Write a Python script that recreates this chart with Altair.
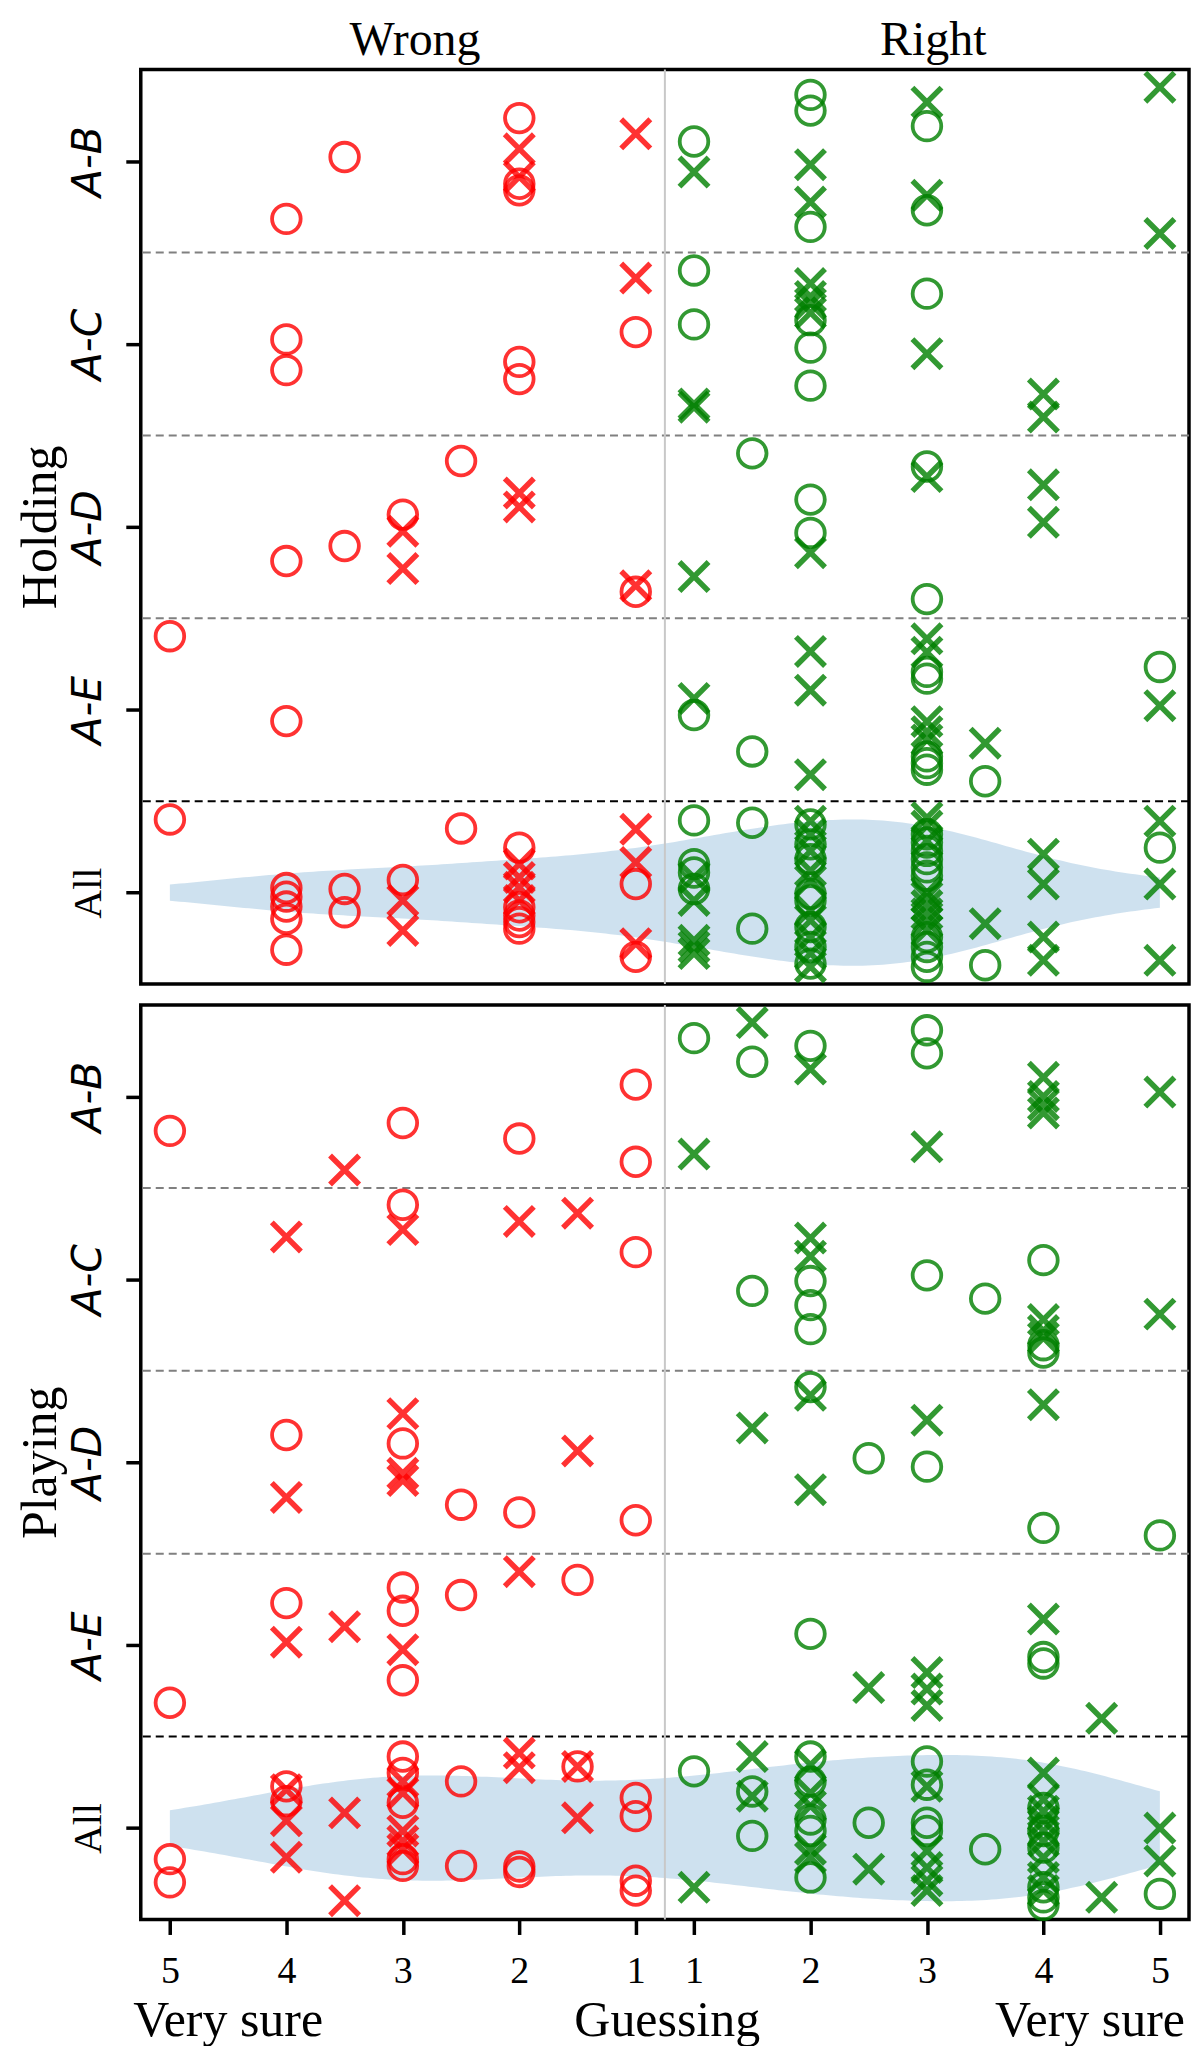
import altair as alt
import numpy as np
import pandas as pd

# ---------------- data ----------------
ROW_NAMES = ['A-B', 'A-C', 'A-D', 'A-E', 'All']
ROW_CENTERS = [4.5, 3.5, 2.5, 1.5, 0.5]
ROW_BOUNDS = [4, 3, 2, 1]
ROW_BOUND_COLORS = ['#808080', '#808080', '#808080', 'black']

TICK_POS = [0, 1, 2, 3, 4, 4.5, 5.5, 6.5, 7.5, 8.5]
TICK_LABELS = ['5', '4', '3', '2', '1', '1', '2', '3', '4', '5']
SPLIT_POS = [4.25]

SIDE_POS = [2.1, 6.55]
SIDE_LABELS = ['Wrong', 'Right']

SCALE_POS = [0.5, 4.27, 7.9]
SCALE_LABELS = ['Very sure', 'Guessing', 'Very sure']

# (position, offset inside row)
HOLD_AB_O = [(1, -0.316), (1.5, 0.022), (3, 0.235), (3, -0.124), (3, -0.16), (4.5, 0.107),
             (5.5, 0.362), (5.5, 0.276), (5.5, -0.36), (6.5, 0.191), (6.5, -0.269)]
HOLD_AB_X = [(3, 0.067), (3, -0.087), (4, 0.149), (4.5, -0.06), (5.5, -0.02), (5.5, -0.224),
             (6.5, 0.322), (6.5, -0.187), (8.5, 0.404), (8.5, -0.396)]
HOLD_AC_O = [(1, 0.025), (1, -0.143), (3, -0.098), (3, -0.192), (4, 0.065), (4.5, 0.402),
             (4.5, 0.107), (5.5, 0.13), (5.5, -0.02), (5.5, -0.228), (6.5, 0.275)]
HOLD_AC_X = [(4, 0.36), (4.5, -0.328), (4.5, -0.346), (5.5, 0.33), (5.5, 0.26), (5.5, 0.22),
             (5.5, 0.17), (6.5, -0.053), (7.5, -0.274), (7.5, -0.4)]
HOLD_AD_O = [(1, -0.187), (1.5, -0.105), (2, 0.067), (2.5, 0.36), (4, -0.355), (5, 0.402),
             (5.5, 0.149), (5.5, -0.033), (6.5, 0.33), (6.5, -0.395)]
HOLD_AD_X = [(2, -0.024), (2, -0.228), (3, 0.185), (3, 0.109), (4, -0.322), (4.5, -0.272),
             (5.5, -0.141), (6.5, 0.275), (7.5, 0.23), (7.5, 0.025)]
HOLD_AE_O = [(0, 0.402), (1, -0.062), (4.5, -0.029), (5, -0.228), (6.5, 0.207), (6.5, 0.17),
             (6.5, -0.255), (6.5, -0.292), (6.5, -0.328), (7, -0.391), (8.5, 0.234)]
HOLD_AE_X = [(4.5, 0.062), (5.5, 0.319), (5.5, 0.107), (5.5, -0.355), (6.5, 0.388), (6.5, 0.315),
             (6.5, -0.065), (6.5, -0.12), (6.5, -0.165), (7, -0.183), (8.5, 0.022)]
HOLD_ALL_O = [(0, 0.4), (1, 0.025), (1, -0.022), (1, -0.076), (1, -0.143), (1, -0.312),
              (1.5, 0.02), (1.5, -0.107), (2, 0.069), (2.5, 0.351), (3, 0.246), (3, -0.08),
              (3, -0.125), (3, -0.161), (3, -0.197), (4, 0.047), (4, -0.351), (4.5, 0.395),
              (4.5, 0.156), (4.5, 0.11), (4.5, 0.02), (5, 0.382), (5, -0.197), (5.5, 0.373),
              (5.5, 0.264), (5.5, 0.183), (5.5, -0.007), (5.5, -0.043), (5.5, -0.188),
              (5.5, -0.297), (5.5, -0.388), (6.5, 0.319), (6.5, 0.274), (6.5, 0.228),
              (6.5, 0.183), (6.5, 0.138), (6.5, 0.092), (6.5, -0.243), (6.5, -0.297),
              (6.5, -0.351), (6.5, -0.406), (7, -0.397), (8.5, 0.246)]
HOLD_ALL_X = [(2, -0.043), (2, -0.207), (3, 0.156), (3, 0.083), (3, 0.029), (3, -0.043),
              (4, 0.346), (4, 0.165), (4, -0.279), (4.5, 0.083), (4.5, -0.043), (4.5, -0.261),
              (4.5, -0.297), (4.5, -0.333), (5.5, 0.391), (5.5, 0.319), (5.5, 0.228), (5.5, 0.12),
              (5.5, 0.065), (5.5, -0.098), (5.5, -0.152), (5.5, -0.243), (5.5, -0.333),
              (5.5, -0.406), (6.5, 0.41), (6.5, 0.364), (6.5, 0.283), (6.5, 0.002),
              (6.5, -0.025), (6.5, -0.071), (6.5, -0.116), (6.5, -0.161), (6.5, -0.207),
              (7, -0.17), (7.5, 0.21), (7.5, 0.047), (7.5, -0.243), (7.5, -0.37),
              (8.5, 0.391), (8.5, 0.047), (8.5, -0.37)]

PLAY_AB_O = [(0, -0.188), (2, -0.145), (3, -0.23), (4, 0.065), (4, -0.357), (4.5, 0.319),
             (5, 0.19), (5.5, 0.277), (6.5, 0.362), (6.5, 0.236)]
PLAY_AB_X = [(1.5, -0.402), (4.5, -0.315), (5, 0.404), (5.5, 0.15), (6.5, -0.275), (7.5, 0.105),
             (7.5, 0.0), (7.5, -0.045), (7.5, -0.09), (8.5, 0.024)]
PLAY_AC_O = [(2, 0.408), (4, 0.149), (5, -0.063), (5.5, -0.009), (5.5, -0.141), (5.5, -0.272),
             (6.5, 0.022), (7, -0.105), (7.5, 0.105), (7.5, -0.36), (7.5, -0.40)]
PLAY_AC_X = [(1, 0.232), (2, 0.272), (3, 0.317), (3.5, 0.362), (5.5, 0.226), (5.5, 0.127),
             (7.5, -0.22), (7.5, -0.28), (7.5, -0.32), (8.5, -0.19)]
PLAY_AD_O = [(1, 0.149), (2, 0.103), (2.5, -0.232), (3, -0.274), (4, -0.317), (5.5, 0.411),
             (6, 0.022), (6.5, -0.024), (7.5, -0.359), (8.5, -0.4)]
PLAY_AD_X = [(1, -0.192), (2, 0.266), (2, -0.06), (2, -0.10), (3.5, 0.062), (5, 0.188),
             (5.5, 0.366), (5.5, -0.15), (6.5, 0.23), (7.5, 0.315)]
PLAY_AE_O = [(0, -0.315), (1, 0.23), (2, 0.315), (2, 0.188), (2, -0.192), (2.5, 0.274),
             (3.5, 0.357), (5.5, 0.062), (7.5, -0.065), (7.5, -0.1)]
PLAY_AE_X = [(1, 0.016), (1.5, 0.101), (2, -0.025), (3, 0.402), (6, -0.232), (6.5, -0.15),
             (6.5, -0.24), (6.5, -0.33), (7.5, 0.143), (8, -0.4)]
PLAY_ALL_O = [(0, -0.17), (0, -0.297), (1, 0.228), (1, 0.147), (2, 0.391), (2, 0.301),
              (2, 0.138), (2, -0.17), (2, -0.207), (2.5, 0.255), (2.5, -0.207), (3, -0.21),
              (3, -0.24), (3.5, 0.337), (4, 0.165), (4, 0.065), (4, -0.288), (4, -0.342),
              (4.5, 0.31), (5, 0.2), (5, -0.043), (5.5, 0.391), (5.5, 0.254), (5.5, 0.047),
              (5.5, -0.016), (5.5, -0.27), (6, 0.029), (6.5, 0.364), (6.5, 0.237), (6.5, 0.029),
              (6.5, -0.016), (7, -0.116), (7.5, 0.11), (7.5, -0.016), (7.5, -0.107),
              (7.5, -0.324), (7.5, -0.379), (7.5, -0.42), (8.5, -0.36)]
PLAY_ALL_X = [(1, 0.21), (1, 0.04), (1, -0.16), (1.5, 0.083), (1.5, -0.397), (2, 0.254),
              (2, 0.192), (2, -0.016), (2, -0.071), (2, -0.116), (3, 0.41), (3, 0.33),
              (3.5, 0.337), (3.5, 0.056), (4.5, -0.324), (5, 0.391), (5, 0.174), (5.5, 0.346),
              (5.5, 0.192), (5.5, 0.12), (5.5, -0.116), (5.5, -0.161), (6, -0.225),
              (6.5, 0.228), (6.5, -0.125), (6.5, -0.216), (6.5, -0.288), (6.5, -0.342),
              (7.5, 0.301), (7.5, 0.156), (7.5, 0.092), (7.5, 0.038), (7.5, -0.016),
              (7.5, -0.071), (7.5, -0.161), (7.5, -0.27), (7.5, -0.342), (8, -0.379),
              (8.5, 0.0), (8.5, -0.18)]

HOLD_GROUPS = [
    (ROW_CENTERS[0], 'o', HOLD_AB_O), (ROW_CENTERS[0], 'x', HOLD_AB_X),
    (ROW_CENTERS[1], 'o', HOLD_AC_O), (ROW_CENTERS[1], 'x', HOLD_AC_X),
    (ROW_CENTERS[2], 'o', HOLD_AD_O), (ROW_CENTERS[2], 'x', HOLD_AD_X),
    (ROW_CENTERS[3], 'o', HOLD_AE_O), (ROW_CENTERS[3], 'x', HOLD_AE_X),
    (ROW_CENTERS[4], 'o', HOLD_ALL_O), (ROW_CENTERS[4], 'x', HOLD_ALL_X),
]
PLAY_GROUPS = [
    (ROW_CENTERS[0], 'o', PLAY_AB_O), (ROW_CENTERS[0], 'x', PLAY_AB_X),
    (ROW_CENTERS[1], 'o', PLAY_AC_O), (ROW_CENTERS[1], 'x', PLAY_AC_X),
    (ROW_CENTERS[2], 'o', PLAY_AD_O), (ROW_CENTERS[2], 'x', PLAY_AD_X),
    (ROW_CENTERS[3], 'o', PLAY_AE_O), (ROW_CENTERS[3], 'x', PLAY_AE_X),
    (ROW_CENTERS[4], 'o', PLAY_ALL_O), (ROW_CENTERS[4], 'x', PLAY_ALL_X),
]

# ---------------- style ----------------
W, H = 1050, 916
SERIF = 'Liberation Serif'
SANS = 'DejaVu Sans'
X_PATH = 'M-1,-1L1,1M-1,1L1,-1'
VIOLIN_HALF = 0.4
BIG = 50
TOP_FS = 48

xscale = alt.Scale(domain=[-0.25, 8.75], nice=False, zero=False)
yscale = alt.Scale(domain=[0, 5], nice=False, zero=False)
cscale = alt.Scale(domain=['Wrong', 'Right'], range=['#ff0000', '#008000'])


def make_df(groups):
    recs = []
    for center, marker, pts in groups:
        for u, v in pts:
            recs.append({'u': u, 'y': center + v, 'marker': marker,
                         'side': 'Wrong' if u < SPLIT_POS[0] else 'Right'})
    return pd.DataFrame(recs)


def ternary(values, labels):
    s = ''
    for v, l in zip(values, labels):
        s += f"abs(datum.value - {v}) < 0.01 ? '{l}' : "
    return s + "''"


ylab_expr = ternary(ROW_CENTERS, ROW_NAMES)
xlab_expr = ternary(TICK_POS, TICK_LABELS)
side_expr = ternary(SIDE_POS, SIDE_LABELS)
is_all = f"datum.value < {ROW_BOUNDS[-1]}"


def y_axis(title):
    return alt.Axis(
        values=ROW_CENTERS, labelExpr=ylab_expr, title=title,
        titleFont=SERIF, titleFontSize=BIG, titleFontWeight='normal', titleColor='black',
        titlePadding=2,
        labelFont={'condition': {'test': is_all, 'value': SERIF}, 'value': SANS},
        labelFontStyle={'condition': {'test': is_all, 'value': 'normal'}, 'value': 'italic'},
        labelFontSize={'condition': {'test': is_all, 'value': 40}, 'value': 41},
        labelAngle=270, labelAlign='center', labelBaseline='alphabetic', labelPadding=25,
        labelColor='black', labelOverlap=False,
        ticks=True, tickSize=15, tickWidth=3.5, tickColor='black',
        domain=False, grid=False)


def x_axis(top):
    if top:
        return alt.Axis(orient='top', values=SIDE_POS, labelExpr=side_expr, title=None,
                        ticks=False, tickSize=0, domain=False, grid=False,
                        labelFont=SERIF, labelFontSize=TOP_FS, labelColor='black',
                        labelPadding=15, labelBaseline='alphabetic', labelAlign='center',
                        labelFlush=False, labelOverlap=False)
    return alt.Axis(orient='bottom', values=TICK_POS, labelExpr=xlab_expr, title=None,
                    ticks=True, tickSize=15, tickWidth=3.5, tickColor='black',
                    domain=False, grid=False,
                    labelFont=SERIF, labelFontSize=38, labelColor='black',
                    labelPadding=48, labelBaseline='alphabetic', labelAlign='center',
                    labelFlush=False, labelOverlap=False)


def panel(groups, all_pts, title, top):
    df = make_df(groups)
    xa = x_axis(top)
    ya = y_axis(title)
    all_u = [u for u, _ in all_pts]
    bw = float(np.std(all_u, ddof=1) * len(all_u) ** (-0.2))
    c = ROW_CENTERS[-1]

    violin = alt.Chart(pd.DataFrame({'u': all_u})).transform_density(
        'u', as_=['u', 'density'], bandwidth=bw, extent=[min(all_u), max(all_u)], steps=200
    ).transform_joinaggregate(maxd='max(density)').transform_calculate(
        upper=f'{c} + {VIOLIN_HALF} * datum.density / datum.maxd',
        lower=f'{c} - {VIOLIN_HALF} * datum.density / datum.maxd'
    ).mark_area(color='#1f77b4', opacity=0.22).encode(
        x=alt.X('u:Q', scale=xscale, axis=xa),
        y=alt.Y('upper:Q', scale=yscale, axis=ya),
        y2='lower:Q')

    seps = alt.Chart(pd.DataFrame({'y': ROW_BOUNDS, 'c': ROW_BOUND_COLORS})).mark_rule(
        strokeDash=[8, 5], strokeWidth=2).encode(
        y=alt.Y('y:Q', scale=yscale, axis=ya),
        color=alt.Color('c:N', scale=None))

    vline = alt.Chart(pd.DataFrame({'u': SPLIT_POS})).mark_rule(
        color='#c8c8c8', strokeWidth=2).encode(
        x=alt.X('u:Q', scale=xscale, axis=xa))

    circ = alt.Chart(df[df.marker == 'o']).mark_point(
        shape='circle', filled=False, size=820, strokeWidth=3.8, opacity=0.8).encode(
        x=alt.X('u:Q', scale=xscale, axis=xa),
        y=alt.Y('y:Q', scale=yscale, axis=ya),
        color=alt.Color('side:N', scale=cscale, legend=None))

    cross = alt.Chart(df[df.marker == 'x']).mark_point(
        shape=X_PATH, filled=False, size=850, strokeWidth=5.5, opacity=0.8).encode(
        x=alt.X('u:Q', scale=xscale, axis=xa),
        y=alt.Y('y:Q', scale=yscale, axis=ya),
        color=alt.Color('side:N', scale=cscale, legend=None))

    layers = [violin, seps, vline, circ, cross]
    if not top:
        txt = alt.Chart(pd.DataFrame({'u': SCALE_POS, 't': SCALE_LABELS})).mark_text(
            font=SERIF, fontSize=BIG, color='black', baseline='alphabetic', align='center'
        ).encode(x=alt.X('u:Q', scale=xscale, axis=xa), y=alt.value(H + 117), text='t:N')
        layers.append(txt)
    return alt.layer(*layers).properties(width=W, height=H)


top_panel = panel(HOLD_GROUPS, HOLD_ALL_O + HOLD_ALL_X, 'Holding', True)
bottom_panel = panel(PLAY_GROUPS, PLAY_ALL_O + PLAY_ALL_X, 'Playing', False)

chart = alt.vconcat(top_panel, bottom_panel, spacing=0).properties(
    padding={'left': 6, 'top': 5, 'right': 0, 'bottom': 0}
).configure(font=SERIF).configure_view(stroke='black', strokeWidth=3.5)

chart.save("out.html", embed_options={"renderer": "svg", "actions": False})
